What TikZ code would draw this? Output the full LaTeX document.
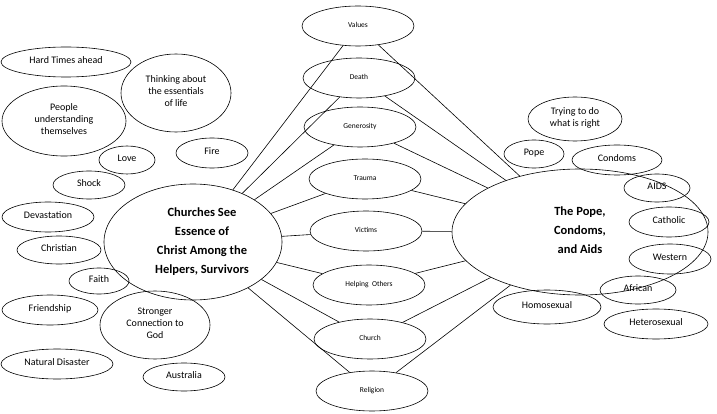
\documentclass[tikz,border=0pt]{standalone}
\usepackage{fontspec}
\setmainfont{Carlito}
\usetikzlibrary{shapes.geometric}
\newcommand\tx[1]{\makebox[0pt]{\raisebox{-0.6ex}{\smash{\begin{tabular}{@{}c@{}}#1\end{tabular}}}}}
\begin{document}
\begin{tikzpicture}[x=1pt,y=-1pt,
  e/.style={draw,ellipse,inner sep=0pt,font=\fontsize{10}{12}\selectfont},
  m/.style={e,minimum width=112pt,minimum height=40pt,font=\fontsize{7.5}{9}\selectfont},
  big/.style={e,font=\bfseries\fontsize{12.5}{19}\selectfont},
  line width=0.6pt]
\useasboundingbox (0,0) rectangle (717,414);
\node[big,minimum width=178pt,minimum height=116pt] (L) at (193,242) {\hspace{18pt}\tx{Churches See\\Essence of\\Christ Among the\\Helpers, Survivors}};
\node[big,minimum width=256pt,minimum height=126pt] (R) at (580,232) {\tx{The Pope,\\Condoms,\\and Aids}\hspace{20pt}};
\foreach \n/\t/\x/\y in {va/Values/358/26, de/Death/359/78, ge/Generosity/360/127, tr/Trauma/365/179, vi/Victims/366/231, he/Helping\ \ Others/369/285, ch/Church/370/339, re/Religion/372/391}
  {\node[m] (\n) at (\x,\y) {\tx{\t}};}
\foreach \n in {va,de,ge,tr,vi,he,ch,re} {\draw (L) -- (\n); \draw (\n) -- (R);}
% left
\node[e,minimum width=130pt,minimum height=30pt] (a1) at (66,62) {\tx{Hard Times ahead}};
\node[e,minimum width=110pt,minimum height=78pt] (a2) at (176,93) {\tx{Thinking about\\the essentials\\of life}};
\node[e,minimum width=124pt,minimum height=70pt] (a3) at (64,121) {\tx{People\\understanding\\themselves}};
\node[e,minimum width=56pt,minimum height=28pt] (a4) at (127,160) {\tx{Love}};
\node[e,minimum width=72pt,minimum height=30pt] (a5) at (212,153) {\tx{Fire}};
\node[e,minimum width=72pt,minimum height=28pt] (a6) at (89,185) {\tx{Shock}};
\node[e,minimum width=92pt,minimum height=30pt] (a7) at (48,217) {\tx{Devastation}};
\node[e,minimum width=84pt,minimum height=28pt] (a8) at (59,250) {\tx{Christian}};
\node[e,minimum width=60pt,minimum height=26pt] (a9) at (99,281) {\tx{Faith}};
\node[e,minimum width=96pt,minimum height=30pt] (a10) at (50,310) {\tx{Friendship}};
\node[e,minimum width=110pt,minimum height=68pt] (a11) at (155,325) {\tx{Stronger\\Connection to\\God}};
\node[e,minimum width=112pt,minimum height=30pt] (a12) at (57,364) {\tx{Natural Disaster}};
\node[e,minimum width=82pt,minimum height=28pt] (a13) at (184,377) {\tx{Australia}};
% right
\node[e,minimum width=94pt,minimum height=44pt] (b1) at (575,119) {\tx{Trying to do\\what is right}};
\node[e,minimum width=60pt,minimum height=28pt] (b2) at (534,154) {\tx{Pope}};
\node[e,minimum width=90pt,minimum height=30pt] (b3) at (617,160) {\tx{Condoms}};
\node[e,minimum width=66pt,minimum height=28pt] (b4) at (657,188) {\tx{AIDS}};
\node[e,minimum width=80pt,minimum height=30pt] (b5) at (669,222) {\tx{Catholic}};
\node[e,minimum width=82pt,minimum height=30pt] (b6) at (670,259) {\tx{Western}};
\node[e,minimum width=76pt,minimum height=28pt] (b7) at (638,290) {\tx{African}};
\node[e,minimum width=108pt,minimum height=34pt] (b8) at (547,307) {\tx{Homosexual}};
\node[e,minimum width=104pt,minimum height=30pt] (b9) at (656,324) {\tx{Heterosexual}};
\end{tikzpicture}
\end{document}
